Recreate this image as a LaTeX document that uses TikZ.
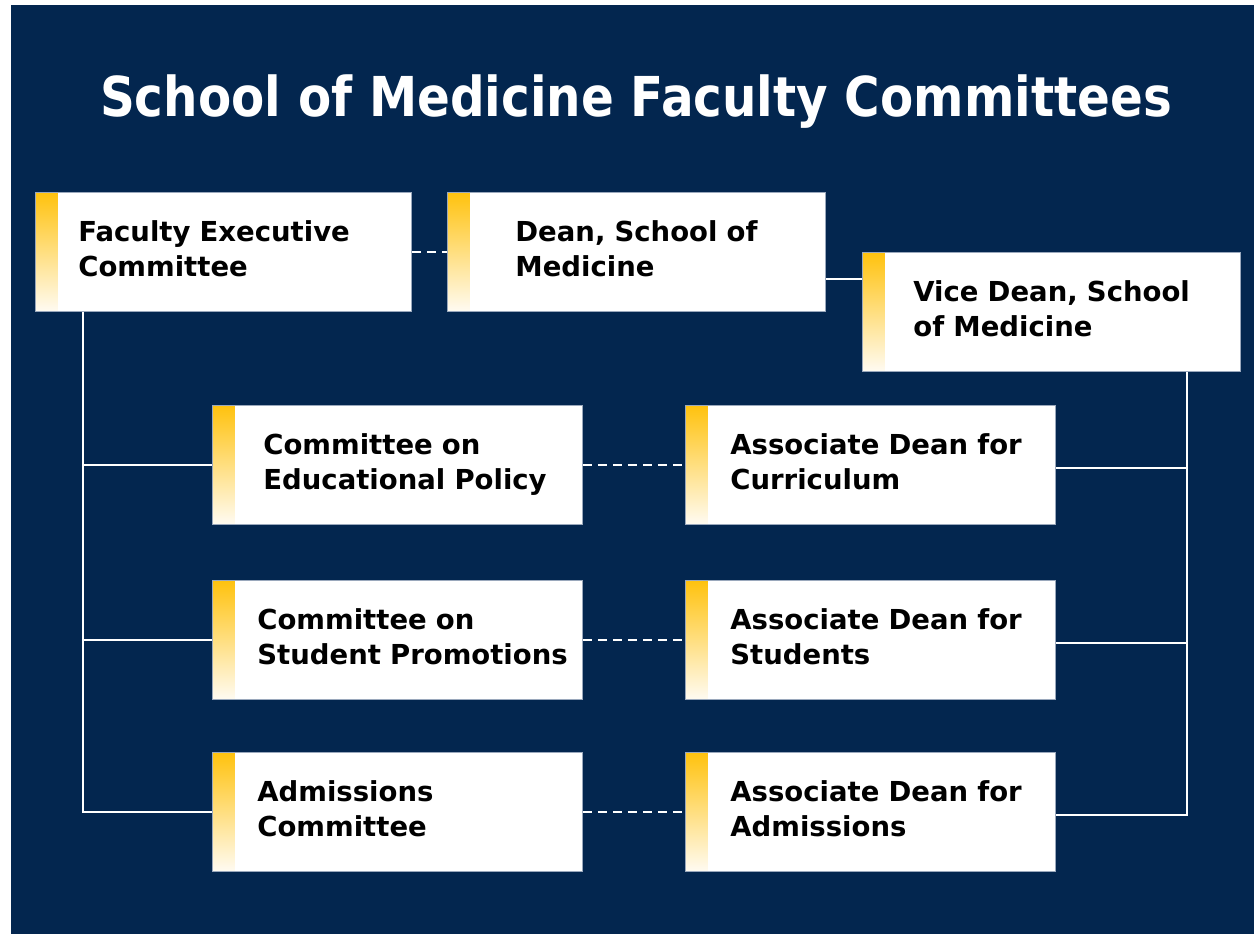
\documentclass[tikz,border=0pt]{standalone}
\usepackage{fontspec}
\setmainfont{DejaVu Sans}
\newfontfamily\headfont[FakeStretch=0.88]{DejaVu Sans}
\newfontfamily\cardfont{DejaVu Sans}
\definecolor{navy}{HTML}{03264F}
\definecolor{gold}{HTML}{FFC20E}
\definecolor{goldfade}{HTML}{FFFBF2}
\definecolor{boxedge}{HTML}{9AA8BC}
\newcommand{\cardtext}[3]{\hspace*{#1pt}\begin{tabular}{@{}l@{}}#2\\#3\end{tabular}}
\tikzset{
  unit/.style={rectangle, fill=white, draw=boxedge, line width=0.8pt, minimum width=#1, text width=#1,
    minimum height=119pt, inner sep=0pt, anchor=north west,
    font=\cardfont\bfseries\fontsize{27.5}{35}\selectfont,
    path picture={\shade[top color=gold, bottom color=goldfade] (path picture bounding box.north west) rectangle ([xshift=22pt]path picture bounding box.south west);}},
  unit/.default=370pt,
  link/.style={draw=white, line width=2.5pt},
  pairing/.style={link, dash pattern=on 9pt off 6pt}
}
\begin{document}
\begin{tikzpicture}[x=1pt, y=-1pt]
\fill[white] (0,0) rectangle (1254,934);
\fill[navy] (11,5) rectangle (1254,934);
\useasboundingbox (0,0) rectangle (1254,934);
\node[font=\headfont\bfseries\fontsize{55}{60}\selectfont, text=white] (title) at (636,102) {School of Medicine Faculty Committees};
% top row
\node[unit=376pt] (fec) at (35,192) {\cardtext{43}{Faculty Executive}{Committee}};
\node[unit=378pt] (dean) at (447,192) {\cardtext{68}{Dean, School of}{Medicine}};
\node[unit=378pt] (vice) at (862,252) {\cardtext{51}{Vice Dean, School}{of Medicine}};
% committees and deans
\node[unit] (cep) at (212,405) {\cardtext{51}{Committee on}{Educational Policy}};
\node[unit] (adc) at (685,405) {\cardtext{45}{Associate Dean for}{Curriculum}};
\node[unit] (csp) at (212,580) {\cardtext{45}{Committee on}{Student Promotions}};
\node[unit] (ads) at (685,580) {\cardtext{45}{Associate Dean for}{Students}};
\node[unit] (ac) at (212,752) {\cardtext{45}{Admissions}{Committee}};
\node[unit] (ada) at (685,752) {\cardtext{45}{Associate Dean for}{Admissions}};
\coordinate (ltop) at ([xshift=48pt]fec.south west);
\coordinate (rtop) at ([xshift=-54pt]vice.south east);
\draw[pairing] (fec.east) -- (dean.west);
\draw[link] ([yshift=-27pt]dean.east) -- ([yshift=-27pt]dean.east -| vice.west);
\draw[link] (ltop) |- (ac.west);
\draw[link] (ltop |- cep.west) -- (cep.west);
\draw[link] (ltop |- csp.west) -- (csp.west);
\draw[link] (rtop) |- ([yshift=-3pt]ada.east);
\draw[link] ([yshift=-3pt]adc.east) -- ([yshift=-3pt]adc.east -| rtop);
\draw[link] ([yshift=-3pt]ads.east) -- ([yshift=-3pt]ads.east -| rtop);
\draw[pairing] (cep.east) -- (adc.west);
\draw[pairing] (csp.east) -- (ads.west);
\draw[pairing] (ac.east) -- (ada.west);
\end{tikzpicture}
\end{document}
